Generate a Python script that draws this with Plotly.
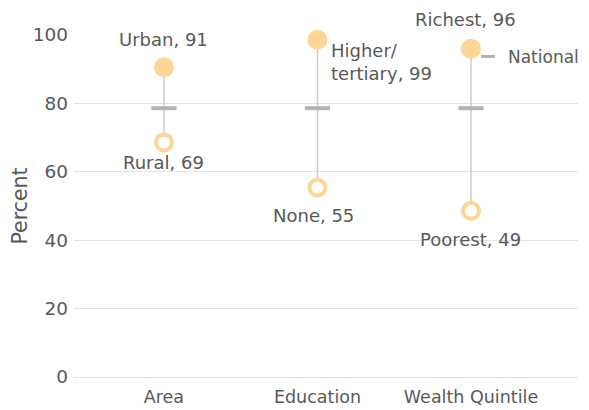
import plotly.graph_objects as go

categories = ["Area", "Education", "Wealth Quintile"]
high_values = [90.6, 98.6, 96.0]
low_values = [68.6, 55.4, 48.6]
national_values = [78.6, 78.6, 78.6]
high_labels = ["Urban, 91", "Higher/<br>tertiary, 99", "Richest, 96"]
low_labels = ["Rural, 69", "None, 55", "Poorest, 49"]
y_ticks = [0, 20, 40, 60, 80, 100]

ORANGE = "#FDD599"
GRAY_TXT = "#595959"
FONT = "DejaVu Sans"

xs = list(range(len(categories)))

fig = go.Figure()

# connecting lines
lx, ly = [], []
for i in xs:
    lx += [i, i, None]
    ly += [low_values[i], high_values[i], None]
fig.add_trace(go.Scatter(x=lx, y=ly, mode="lines", line=dict(color="#cccccc", width=1.5),
                         hoverinfo="skip", showlegend=False, cliponaxis=False))

fig.add_trace(go.Scatter(x=xs, y=national_values, mode="markers", name="National",
                         legendgroup="nat",
                         marker=dict(symbol="line-ew", size=18, line=dict(color="#b3b3b3", width=4)),
                         showlegend=False, cliponaxis=False))
# legend entry with a smaller dash
fig.add_trace(go.Scatter(x=[None], y=[None], mode="markers", name="National",
                         legendgroup="nat",
                         marker=dict(symbol="line-ew", size=10, line=dict(color="#b3b3b3", width=3)),
                         showlegend=True))

fig.add_trace(go.Scatter(x=xs, y=high_values, mode="markers",
                         marker=dict(symbol="circle", size=20, color=ORANGE, line=dict(width=0)),
                         showlegend=False, cliponaxis=False))
fig.add_trace(go.Scatter(x=xs, y=low_values, mode="markers",
                         marker=dict(symbol="circle", size=16, color="white", line=dict(color=ORANGE, width=4)),
                         showlegend=False, cliponaxis=False))

label_font = dict(family=FONT, size=18, color=GRAY_TXT)
high_pos = [dict(xshift=0, yshift=28, xanchor="center", yanchor="middle", align="center"),
            dict(xshift=12, yshift=-22, xanchor="left", yanchor="middle", align="left"),
            dict(xshift=-6, yshift=29, xanchor="center", yanchor="middle", align="center")]
for i in xs:
    fig.add_annotation(x=i, y=high_values[i], text=high_labels[i], showarrow=False,
                       font=label_font, **high_pos[i])
low_pos = [dict(xshift=0, yshift=-20), dict(xshift=-4, yshift=-28), dict(xshift=-1, yshift=-29)]
for i in xs:
    fig.add_annotation(x=i, y=low_values[i], text=low_labels[i], showarrow=False,
                       font=label_font, xanchor="center", yanchor="middle", **low_pos[i])

fig.update_layout(
    width=589, height=410,
    margin=dict(l=66, r=19, t=27, b=41, autoexpand=False),
    paper_bgcolor="white", plot_bgcolor="white",
    font=dict(family=FONT, color=GRAY_TXT),
    legend=dict(x=0.7817, y=0.936, xanchor="left", yanchor="middle",
                font=dict(family=FONT, size=17, color=GRAY_TXT),
                bgcolor="rgba(0,0,0,0)", borderwidth=0),
    xaxis=dict(tickmode="array", tickvals=xs, ticktext=categories, range=[-0.586, 2.697],
               showgrid=False, zeroline=False, showline=False, ticks="",
               ticklabelstandoff=7, automargin=False,
               tickfont=dict(family=FONT, size=17.5, color=GRAY_TXT)),
    yaxis=dict(range=[0, 100], tickvals=y_ticks, showgrid=True, gridcolor="#e3e3e3", gridwidth=1,
               zeroline=True, zerolinecolor="#e3e3e3", zerolinewidth=1, showline=False, ticks="",
               ticklabelstandoff=5, automargin=False,
               tickfont=dict(family=FONT, size=18.5, color=GRAY_TXT),
               title=dict(text="Percent", font=dict(family=FONT, size=20.5, color=GRAY_TXT), standoff=2)),
)

fig.write_html("out.html")
